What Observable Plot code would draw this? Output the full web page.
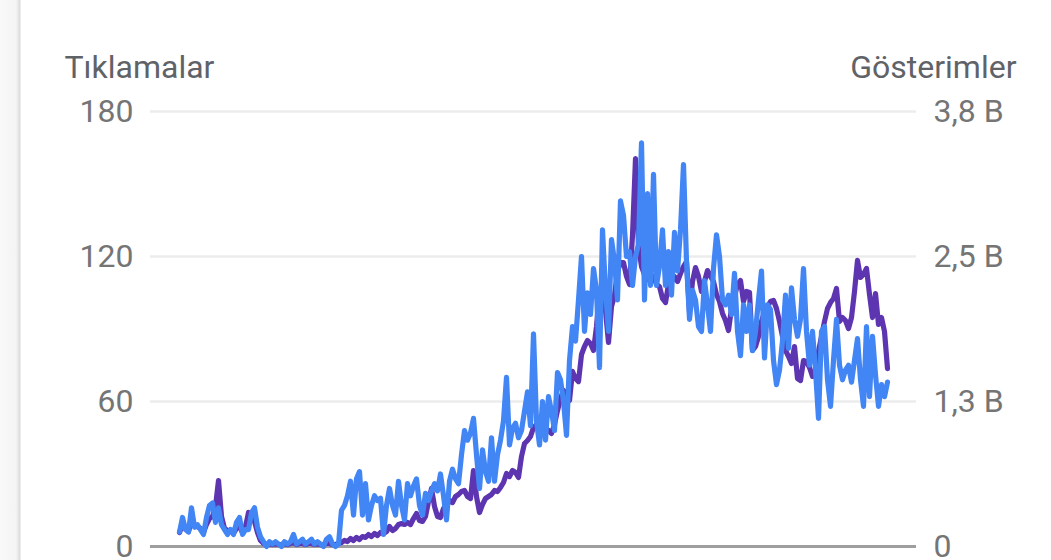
<!DOCTYPE html>
<html>
<head>
<meta charset="utf-8">
<script src="https://cdn.jsdelivr.net/npm/d3@7"></script>
<script src="https://cdn.jsdelivr.net/npm/@observablehq/plot@0.6"></script>
<style>
  html, body { margin: 0; padding: 0; }
  body {
    width: 1051px; height: 560px; overflow: hidden;
    background: linear-gradient(to right, #f9f9f9 0px, #f4f4f4 16px, #e2e2e2 19px, #d8d8d8 20px, #ffffff 21px, #ffffff 100%);
  }
  #chart svg { display: block; }
</style>
</head>
<body>
<div id="chart"></div>
<script>
// Daily clicks (Tıklamalar) - blue line, left axis
const clicks = [
  6,12,7,6,16,8,9,7,5,12,
  17,18,10,16,9,7,5,7,5,10,
  12,5,7,7,14,16,8,4,2,0,
  2,1,2,1,0,2,1,2,5,1,
  2,3,1,2,3,1,2,1,0,3,
  4,1,0,1,15,17,21,27,13,28,
  31,13,26,11,17,21,19,20,5,17,
  24,17,13,27,17,11,26,21,25,28,
  17,13,22,19,23,26,23,30,21,11,
  27,32,28,26,38,48,44,47,53,38,
  24,40,31,27,45,27,38,44,52,70,
  42,49,51,45,48,56,64,50,88,52,
  42,60,44,62,56,48,72,69,60,46,
  77,91,85,102,120,89,105,96,115,106,
  74,131,106,89,127,118,102,143,137,120,
  122,108,120,125,167,102,146,108,154,108,
  116,131,108,122,104,130,114,131,158,118,
  94,106,102,91,89,110,100,89,115,129,
  120,102,100,104,96,113,89,79,100,89,
  100,81,89,102,114,78,100,98,77,67,
  73,85,104,82,107,94,87,94,115,89,
  75,89,73,53,89,91,69,58,77,94,
  75,69,73,75,68,77,86,69,58,91,
  62,87,71,58,67,62,68
];

// Daily impressions (Gösterimler) - purple line, right axis
const impressions = [
  121,190,155,129,216,172,172,155,121,190,
  241,259,345,569,259,155,138,138,112,155,
  172,121,172,293,259,216,121,52,26,17,
  26,17,26,17,17,26,17,26,34,17,
  26,26,17,26,26,17,26,17,17,26,
  26,17,17,26,34,52,43,69,52,78,
  60,86,78,103,86,112,95,121,112,129,
  172,138,155,190,198,190,207,190,241,284,
  224,216,259,388,500,345,259,250,328,362,
  397,379,431,448,474,483,431,414,655,431,
  293,362,414,431,448,483,474,509,552,629,
  603,655,638,595,776,888,914,948,1026,1052,
  1086,1069,1017,1000,974,1052,1172,1276,1345,1293,
  1259,1509,1448,1422,1655,1724,1776,1750,1690,1897,
  2198,2241,2034,1759,2069,2164,2371,2448,2448,2328,
  2259,2681,3345,2586,2414,2345,2310,2284,2328,2259,
  2241,2138,2103,2259,2284,2328,2284,2353,2414,2457,
  2026,2284,2405,2328,2198,2284,2379,2328,2284,2172,
  2112,2009,1948,1862,2052,2155,2259,2293,2112,2198,
  2190,1690,1724,1810,1940,2026,2069,2112,2121,2052,
  1940,1810,1690,1638,1578,1724,1448,1431,1603,1595,
  1543,1466,1509,1681,1810,1940,2052,2103,2138,2224,
  1940,1974,1948,1879,1974,2198,2466,2319,2345,2397,
  2172,1974,2181,1914,1974,1853,1534
];

// Axes
const clickTicks = [0, 60, 120, 180];
const clickTickLabels = ["0", "60", "120", "180"];
const impressionTickLabels = ["0", "1,3 B", "2,5 B", "3,8 B"];
const clickMax = 180;
const impressionMax = 3750;
const leftTitle = "Tıklamalar";
const rightTitle = "Gösterimler";

const toClickScale = v => v * clickMax / impressionMax;

const chart = Plot.plot({
  width: 1051,
  height: 560,
  marginLeft: 150,
  marginRight: 135,
  marginTop: 111,
  marginBottom: 14,
  style: {
    background: "transparent",
    fontFamily: "Roboto, 'Noto Sans', sans-serif",
    fontSize: "32px",
    color: "#757575",
    overflow: "visible"
  },
  x: { domain: [0, clicks.length - 1], insetLeft: 29, insetRight: 29, axis: null },
  y: { domain: [0, clickMax], axis: null },
  marks: [
    Plot.ruleY(clickTicks.filter(d => d > 0), { stroke: "#ececec", strokeWidth: 2.5 }),
    Plot.ruleY([0], { stroke: "#9e9e9e", strokeWidth: 3 }),
    Plot.axisY({
      anchor: "left", ticks: clickTicks, tickSize: 0, tickPadding: 17,
      tickFormat: d => clickTickLabels[clickTicks.indexOf(d)], label: null, fontSize: 32
    }),
    Plot.axisY({
      anchor: "right", ticks: clickTicks, tickSize: 0, tickPadding: 17,
      tickFormat: d => impressionTickLabels[clickTicks.indexOf(d)], label: null, fontSize: 32
    }),
    Plot.text([leftTitle], {
      text: d => d, frameAnchor: "top-left", textAnchor: "start", lineAnchor: "bottom",
      dx: -86, dy: -34, fill: "#5f6368", fontSize: 32
    }),
    Plot.text([rightTitle], {
      text: d => d, frameAnchor: "top-right", textAnchor: "end", lineAnchor: "bottom",
      dx: 100, dy: -34, fill: "#5f6368", fontSize: 32
    }),
    Plot.lineY(impressions, {
      y: toClickScale, stroke: "#5e35b1", strokeWidth: 5.2,
      strokeLinejoin: "round", strokeLinecap: "round"
    }),
    Plot.lineY(clicks, {
      stroke: "#4285f4", strokeWidth: 5.2,
      strokeLinejoin: "round", strokeLinecap: "round"
    })
  ]
});

document.getElementById("chart").appendChild(chart);
</script>
</body>
</html>
